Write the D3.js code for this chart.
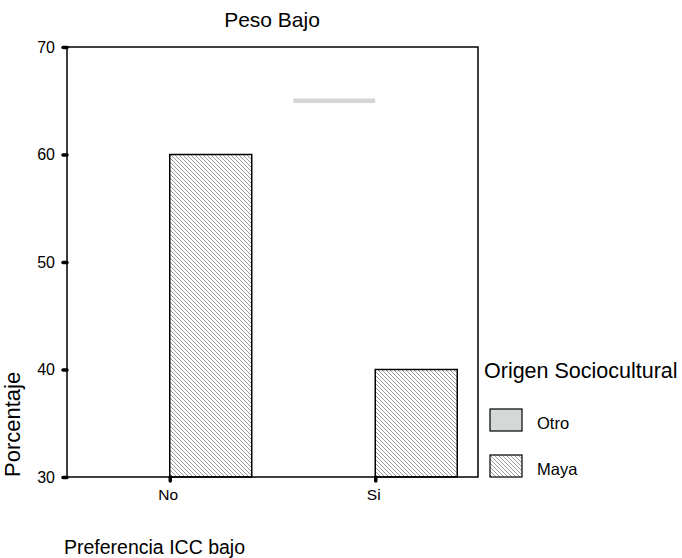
<!DOCTYPE html>
<html><head><meta charset="utf-8">
<script src="https://cdn.jsdelivr.net/npm/d3@7"></script>
<style>body{margin:0;background:#fff}svg{display:block;font-family:Arial,"Liberation Sans",sans-serif}</style>
</head><body>
<svg id="c" width="682" height="558"></svg>
<script>
const categories = ["No", "Si"];
const seriesNames = ["Otro", "Maya"];
const otroValues = [null, 65];
const mayaValues = [60, 40];
const yTicks = [30, 40, 50, 60, 70];

const svg = d3.select("#c");
const pLeft = 67, pRight = 478, pTop = 47, pBottom = 477;
const FONT = "Arial,'Liberation Sans',sans-serif";

const defs = svg.append("defs");
const pat = defs.append("pattern").attr("id", "hatch").attr("patternUnits", "userSpaceOnUse")
  .attr("width", 4).attr("height", 4);
pat.append("rect").attr("width", 4).attr("height", 4).attr("fill", "#fff");
pat.append("path").attr("d", "M-1,-1L5,5M-1,3L1,5M3,-1L5,1").attr("stroke", "#6e6e6e").attr("stroke-width", 0.7);

const x = d3.scalePoint().domain(categories).range([pLeft, pRight]).padding(0.5);
const y = d3.scaleLinear().domain([30, 70]).range([pBottom, pTop]);
const bw = 82;

// Maya bars (right of tick)
svg.selectAll(".maya").data(categories.map((c, i) => ({c, v: mayaValues[i]})).filter(d => d.v != null))
  .enter().append("rect")
  .attr("x", d => x(d.c)).attr("y", d => y(d.v))
  .attr("width", bw).attr("height", d => y(30) - y(d.v))
  .attr("fill", "url(#hatch)").attr("stroke", "#000").attr("stroke-width", 1.5);

// Otro (drawn as a gray line at its value, left of tick)
svg.selectAll(".otro").data(categories.map((c, i) => ({c, v: otroValues[i]})).filter(d => d.v != null))
  .enter().append("line")
  .attr("x1", d => x(d.c) - bw).attr("x2", d => x(d.c))
  .attr("y1", d => y(d.v)).attr("y2", d => y(d.v))
  .attr("stroke", "#d3d6d4").attr("stroke-width", 4.5);

// frame
svg.append("rect").attr("x", pLeft).attr("y", pTop).attr("width", pRight - pLeft).attr("height", pBottom - pTop)
  .attr("fill", "none").attr("stroke", "#000").attr("stroke-width", 1.5);

// y axis
const ya = svg.append("g").attr("transform", `translate(${pLeft},0)`)
  .call(d3.axisLeft(y).tickValues(yTicks).tickSize(4).tickPadding(8).tickFormat(d3.format("d")));
ya.select(".domain").remove();
ya.selectAll(".tick line").attr("stroke", "#000").attr("stroke-width", 3.5).attr("stroke-linecap", "round");
ya.selectAll(".tick text").attr("font-size", 16).attr("fill", "#000").attr("font-family", FONT);

// x axis
const xa = svg.append("g").attr("transform", `translate(0,${pBottom})`)
  .call(d3.axisBottom(x).tickSize(4).tickPadding(8));
xa.select(".domain").remove();
xa.selectAll(".tick line").attr("stroke", "#000").attr("stroke-width", 3.5).attr("stroke-linecap", "round");
xa.selectAll(".tick text").attr("font-size", 15.5).attr("fill", "#000").attr("font-family", FONT).attr("dx", -2);

// title
svg.append("text").attr("x", 272).attr("y", 27).attr("text-anchor", "middle").attr("font-size", 21).text("Peso Bajo");
// y label
svg.append("text").attr("transform", "translate(20,477) rotate(-90)").attr("text-anchor", "start")
  .attr("font-size", 22).text("Porcentaje");
// x label
svg.append("text").attr("x", 64).attr("y", 554).attr("font-size", 19.5).text("Preferencia ICC bajo");

// legend
svg.append("text").attr("x", 484).attr("y", 378).attr("font-size", 21.5).text("Origen Sociocultural");
const lg = svg.selectAll(".lg").data(seriesNames).enter().append("g")
  .attr("transform", (d, i) => `translate(490,${409 + i * 46})`);
lg.append("rect").attr("width", 32).attr("height", 22)
  .attr("fill", (d, i) => i === 0 ? "#d4d8d6" : "url(#hatch)").attr("stroke", "#000").attr("stroke-width", 1.2);
lg.append("text").attr("x", 47).attr("y", 20).attr("font-size", 16.5).text(d => d);
</script>
</body></html>
